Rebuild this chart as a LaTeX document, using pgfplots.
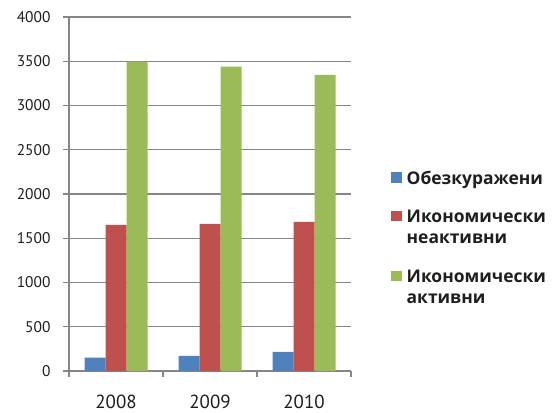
\documentclass[border=0pt]{standalone}
\usepackage{pgfplots}
\pgfplotsset{compat=1.18}
\usepackage{fontspec}
\setmainfont{PT Sans}
\newfontfamily\legfont{Open Sans}
\definecolor{cblue}{HTML}{4F81BD}
\definecolor{cred}{HTML}{C0504D}
\definecolor{cgreen}{HTML}{9BBB59}
\definecolor{gridc}{RGB}{134,134,134}
\definecolor{txt}{RGB}{30,30,30}
\pgfplotsset{
  sqone/.style={legend image code/.code={\fill[##1] (0bp,1.5bp) rectangle (11bp,11.5bp);}},
  sqtwo/.style={legend image code/.code={\fill[##1] (0bp,22.5bp) rectangle (11bp,32.5bp);}},
}
\begin{document}
\begin{tikzpicture}[x=1bp,y=1bp]
\path[use as bounding box] (0,0) rectangle (555,412);
\begin{axis}[
  at={(69bp,41bp)}, anchor=south west,
  scale only axis, width=282bp, height=354bp,
  xmin=-0.5, xmax=2.5, ymin=0, ymax=4000,
  ybar=0pt, bar width=21bp,
  axis x line*=bottom, axis y line*=left,
  axis line style={gridc, line width=1.2bp, -},
  xtick={-0.5,0.5,1.5,2.5},
  x tick label as interval=true,
  xticklabels={2008,2009,2010},
  ytick={0,500,...,4000},
  tick align=outside,
  major tick length=6bp,
  tick style={gridc, line width=1.2bp},
  ymajorgrids,
  grid style={gridc, line width=1.2bp},
  /pgf/number format/assume math mode=true,
  /pgf/number format/1000 sep={},
  yticklabel style={font=\fontsize{15.5}{18}\selectfont, text=txt, xshift=-9bp},
  xticklabel style={font=\fontsize{19}{22}\selectfont, text=txt, yshift=-14bp},
  legend style={draw=none, fill=none, at={(1.14,0.376)}, anchor=west,
    font=\legfont\bfseries\fontsize{17.5}{21}\selectfont, text=txt,
    nodes={align=left, anchor=base west}, row sep=21bp, column sep=3bp, inner sep=0pt},
  legend cell align=left,
]
\addplot[fill=cblue, draw=none, sqone]
  coordinates {(0,150) (1,170) (2,215)};
\addplot[fill=cred, draw=none, sqtwo]
  coordinates {(0,1650) (1,1662) (2,1685)};
\addplot[fill=cgreen, draw=none, sqtwo]
  coordinates {(0,3497) (1,3438) (2,3347)};
\legend{Обезкуражени, Икономически\\неактивни, Икономически\\активни}
\end{axis}
\end{tikzpicture}
\end{document}
